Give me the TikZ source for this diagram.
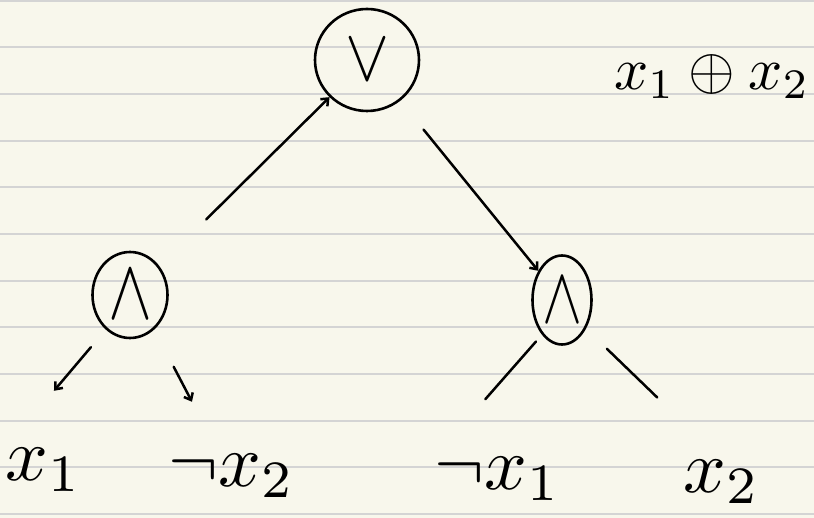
\documentclass[tikz,border=0pt]{standalone}
\usetikzlibrary{positioning,arrows.meta,shapes.geometric}
\definecolor{paper}{HTML}{F8F7EC}
\definecolor{rule}{HTML}{D4D4D4}

\begin{document}
\begin{tikzpicture}[x=1pt,y=-1pt,
  op/.style={draw,ellipse,line width=2.6pt,inner sep=0pt},
  lit/.style={inner sep=0pt},
  ln/.style={line width=2.5pt,line cap=round},
  arr/.style={ln,-{Straight Barb[length=6pt,width=10pt]}}]
  \fill[paper] (0,0) rectangle (814,518);
  \useasboundingbox (0,0) rectangle (814,518);
  \foreach \k in {0,...,11}
    \draw[rule,line width=2pt] (0,0.8+46.65*\k) -- (814,0.8+46.65*\k);
  % gates
  \node[op,minimum width=104pt,minimum height=102pt] (or) at (367,60) {\scalebox{6.6}[7.4]{$\vee$}};
  \node[op,minimum width=75pt,minimum height=86pt] (al) at (130,295) {\scalebox{6.6}[8.6]{$\wedge$}};
  \node[op,minimum width=59pt,minimum height=89pt] (ar) at (562,300) {\scalebox{6}[8]{$\wedge$}};
  % literals
  \node[lit] (x1)  at (44,470)  {\scalebox{7.5}{$x_1$}};
  \node[lit] (nx2) at (232,476) {\scalebox{7.5}{$\neg x_2$}};
  \node[lit] (nx1) at (498,479) {\scalebox{7.5}{$\neg x_1$}};
  \node[lit] (x2)  at (722,482) {\scalebox{7.5}{$x_2$}};
  \node[lit] (xr)  at (712,77)  {\scalebox{6}{$x_1 \oplus x_2$}};
  % edges
  \draw[arr,shorten <=66pt] (al) -- (or);
  \draw[arr,shorten <=37pt] (or) -- (ar);
  \draw[arr,shorten <=23pt,shorten >=75pt] (al.235) -- (x1.north west);
  \draw[arr,shorten <=42pt,shorten >=59pt] (al.305) -- (nx2.120);
  \draw[ln,shorten <=9pt,shorten >=77pt] (ar.240) -- (nx1.north west);
  \draw[ln,shorten <=29pt,shorten >=90pt] (ar.310) -- (x2.north);
\end{tikzpicture}
\end{document}
